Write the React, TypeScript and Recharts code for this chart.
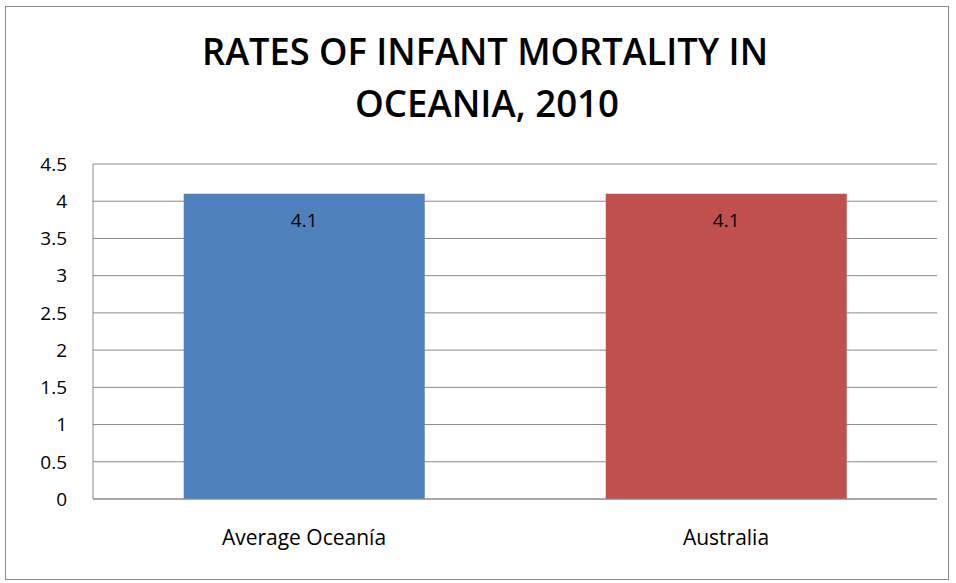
import React from 'react';
import { BarChart, Bar, XAxis, YAxis, CartesianGrid, LabelList, Cell } from 'recharts';

const categories = ['Average Oceanía', 'Australia'];
const rates = [4.1, 4.1];
const yTicks = [0, 0.5, 1, 1.5, 2, 2.5, 3, 3.5, 4, 4.5];
const barColors = ['#4F81BD', '#C0504D'];
const titleLines = ['RATES OF INFANT MORTALITY IN', 'OCEANIA, 2010'];

const data = categories.map((name, i) => ({ name, value: rates[i] }));

const font = '"Open Sans", sans-serif';

// title lines squeezed a little to get the narrow Calibri look
const titleLayout = [
  { x: 485, y: 65, len: 566 },
  { x: 487, y: 117, len: 264 },
];

export default function App() {
  return (
    <div style={{ position: 'absolute', left: 0, top: 0, width: 956, height: 583, background: '#fff', fontFamily: font }}>
      <div
        style={{
          position: 'absolute',
          left: 5,
          top: 6,
          width: 942,
          height: 572,
          border: '1px solid #8c8c8c',
        }}
      />
      <svg style={{ position: 'absolute', left: 0, top: 0 }} width={956} height={150}>
        {titleLines.map((t, i) => (
          <text
            key={t}
            x={titleLayout[i].x}
            y={titleLayout[i].y}
            textAnchor="middle"
            fontFamily={font}
            fontWeight={600}
            fontSize={38}
            fill="#000"
            textLength={titleLayout[i].len}
            lengthAdjust="spacingAndGlyphs"
          >
            {t}
          </text>
        ))}
      </svg>
      <div style={{ position: 'absolute', left: 0, top: 0 }}>
        <BarChart
          width={956}
          height={583}
          data={data}
          margin={{ top: 164, right: 19, bottom: 0, left: 0 }}
          barCategoryGap="21.5%"
        >
          <CartesianGrid vertical={false} stroke="#8a8a8a" strokeWidth={1} />
          <XAxis
            dataKey="name"
            height={84}
            axisLine={{ stroke: '#8a8a8a' }}
            tickLine={false}
            tickSize={0}
            tickMargin={31}
            tick={{ fill: '#000', fontSize: 21, fontFamily: font }}
          />
          <YAxis
            width={93}
            domain={[0, 4.5]}
            ticks={yTicks}
            interval={0}
            axisLine={{ stroke: '#8a8a8a' }}
            tickLine={false}
            tickSize={6}
            tickMargin={20}
            tick={{ fill: '#000', fontSize: 19, fontFamily: font }}
          />
          <Bar dataKey="value" isAnimationActive={false}>
            {data.map((d, i) => (
              <Cell key={d.name} fill={barColors[i]} />
            ))}
            <LabelList
              dataKey="value"
              position="insideTop"
              offset={20}
              fill="#000"
              fontSize={19}
              fontFamily={font}
            />
          </Bar>
        </BarChart>
      </div>
    </div>
  );
}
